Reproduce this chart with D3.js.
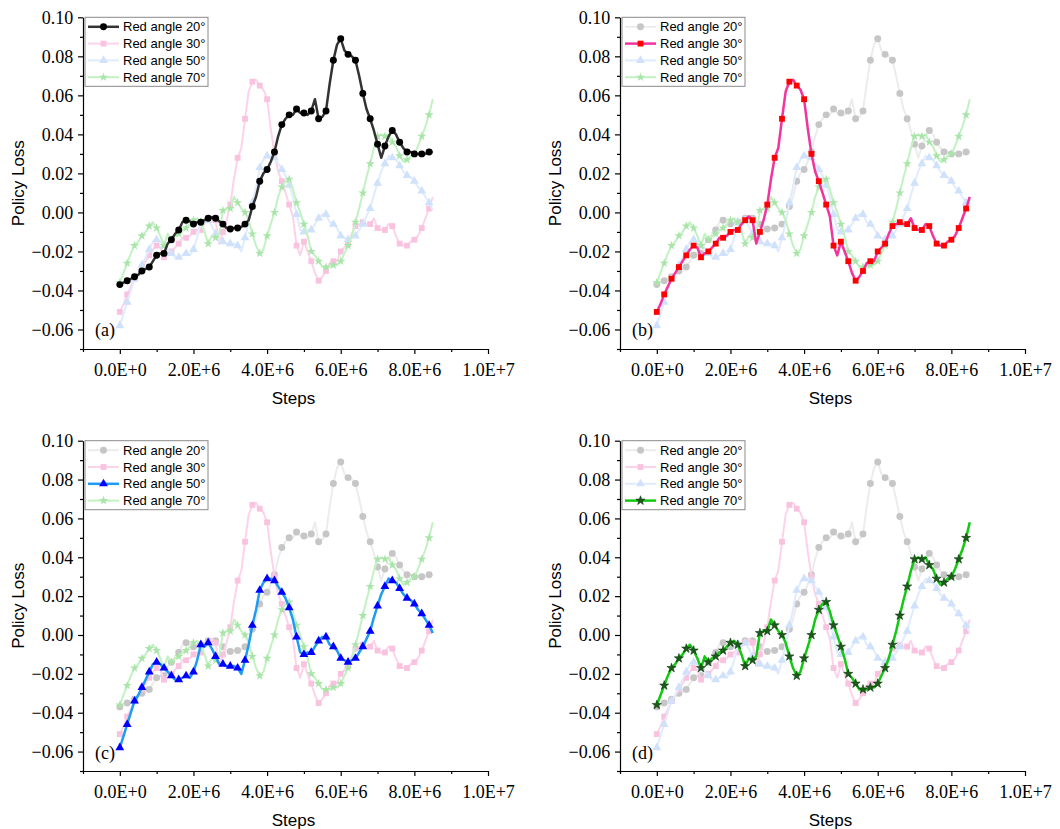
<!DOCTYPE html>
<html>
<head>
<meta charset="utf-8">
<script src="https://cdn.jsdelivr.net/npm/d3@7"></script>
<style>
  html, body { margin: 0; padding: 0; background: #fff; }
  svg { display: block; }
</style>
</head>
<body>
<svg id="chart" width="1060" height="829"></svg>
<script>
// Training steps: one sample every 1E5 steps, 0 … 8.5E6
const steps = d3.range(0, 8.5e6 + 1, 1e5);

const seriesNames = ["Red angle 20°", "Red angle 30°", "Red angle 50°", "Red angle 70°"];

// Policy loss per sample
const angle20 = [
  -0.037, -0.036, -0.035, -0.034, -0.033, -0.032, -0.030, -0.029, -0.028, -0.025,
  -0.022, -0.021, -0.021, -0.016, -0.014, -0.011, -0.009, -0.005, -0.004, -0.0045,
  -0.006, -0.005, -0.005, -0.004, -0.003, -0.0025, -0.003, -0.0045, -0.006, -0.008,
  -0.0085, -0.008, -0.008, -0.0075, -0.006, -0.004, 0.003, 0.008, 0.016, 0.020,
  0.022, 0.026, 0.031, 0.039, 0.045, 0.048, 0.050, 0.050, 0.053, 0.051,
  0.051, 0.050, 0.052, 0.058, 0.048, 0.049, 0.052, 0.066, 0.078, 0.086,
  0.089, 0.083, 0.081, 0.080, 0.078, 0.070, 0.061, 0.053, 0.048, 0.042,
  0.035, 0.028, 0.034, 0.039, 0.042, 0.040, 0.036, 0.033, 0.031, 0.031,
  0.030, 0.030, 0.030, 0.030, 0.031, 0.031
];
const angle30 = [
  -0.051, -0.047, -0.042, -0.038, -0.034, -0.031, -0.028, -0.025, -0.022, -0.019,
  -0.017, -0.018, -0.023, -0.021, -0.020, -0.018, -0.016, -0.013, -0.013, -0.012,
  -0.010, -0.009, -0.009, -0.006, -0.004, -0.002, -0.004, -0.016, -0.010, -0.004,
  0.004, 0.017, 0.028, 0.033, 0.048, 0.062, 0.067, 0.068, 0.065, 0.063,
  0.058, 0.043, 0.030, 0.021, 0.016, 0.010, 0.004, -0.002, -0.017, -0.022,
  -0.015, -0.020, -0.025, -0.031, -0.035, -0.033, -0.030, -0.026, -0.025, -0.025,
  -0.020, -0.018, -0.016, -0.011, -0.007, -0.006, -0.005, -0.006, -0.006, -0.003,
  -0.008, -0.009, -0.009, -0.006, -0.007, -0.012, -0.016, -0.017, -0.017, -0.015,
  -0.014, -0.012, -0.008, -0.003, 0.002, 0.008
];
const angle50 = [
  -0.058, -0.052, -0.046, -0.040, -0.034, -0.031, -0.027, -0.023, -0.019, -0.015,
  -0.014, -0.015, -0.017, -0.019, -0.021, -0.023, -0.023, -0.022, -0.021, -0.022,
  -0.019, -0.013, -0.005, -0.006, -0.004, -0.007, -0.011, -0.015, -0.015, -0.016,
  -0.016, -0.016, -0.017, -0.020, -0.013, -0.005, 0.005, 0.013, 0.023, 0.027,
  0.029, 0.029, 0.028, 0.025, 0.022, 0.019, 0.014, 0.008, -0.001, -0.009,
  -0.010, -0.009, -0.009, -0.006, -0.003, -0.001, -0.001, -0.005, -0.006, -0.008,
  -0.012, -0.013, -0.014, -0.013, -0.012, -0.009, -0.006, -0.002, 0.002, 0.009,
  0.015, 0.021, 0.025, 0.029, 0.028, 0.027, 0.024, 0.021, 0.019, 0.018,
  0.016, 0.013, 0.011, 0.008, 0.005, 0.001
];
const angle70 = [
  -0.036, -0.031, -0.026, -0.021, -0.017, -0.015, -0.012, -0.010, -0.007, -0.005,
  -0.008, -0.012, -0.017, -0.011, -0.014, -0.012, -0.011, -0.009, -0.008, -0.006,
  -0.004, -0.003, -0.005, -0.010, -0.016, -0.012, -0.013, -0.011, 0.001, 0.002,
  0.002, 0.008, 0.005, 0.002, 0.000, -0.004, -0.011, -0.017, -0.021, -0.019,
  -0.012, -0.006, 0.000, 0.008, 0.013, 0.016, 0.017, 0.012, 0.005, 0.000,
  -0.006, -0.012, -0.020, -0.022, -0.025, -0.028, -0.028, -0.028, -0.027, -0.027,
  -0.025, -0.021, -0.017, -0.012, -0.005, 0.002, 0.010, 0.018, 0.025, 0.033,
  0.039, 0.040, 0.039, 0.040, 0.036, 0.034, 0.029, 0.026, 0.027, 0.029,
  0.030, 0.034, 0.039, 0.044, 0.050, 0.058
];

const panelLabels = ["(a)", "(b)", "(c)", "(d)"];
const xTickValues = [0, 2e6, 4e6, 6e6, 8e6, 1e7];
const yTickValues = [-0.06, -0.04, -0.02, 0.00, 0.02, 0.04, 0.06, 0.08, 0.10];

// ---------------------------------------------------------------
const allSeries = [angle20, angle30, angle50, angle70];

const styles = [
  { line: "#333333", mark: "#000000", symbol: d3.symbolCircle,   size: 38, fadeLine: "#ececec", fadeMark: "#c6c6c6" },
  { line: "#f2359c", mark: "#ff0000", symbol: d3.symbolSquare,   size: 34, fadeLine: "#fdd3ea", fadeMark: "#f9c2df" },
  { line: "#1e9bf2", mark: "#0000ff", symbol: d3.symbolTriangle, size: 34, fadeLine: "#e0ecfd", fadeMark: "#cfe1fb" },
  { line: "#14c814", mark: "#1c5a1c", symbol: d3.symbolStar,     size: 26, fadeLine: "#c2f2c2", fadeMark: "#a9e4a9" }
];

// Plot boxes (left, right, top, bottom) for the 2×2 grid
const panels = [
  { l: 83,  r: 488,  t: 17.3,  b: 349 },
  { l: 620, r: 1025, t: 17.3,  b: 349 },
  { l: 83,  r: 488,  t: 440.7, b: 771 },
  { l: 620, r: 1025, t: 440.7, b: 771 }
];

const svg = d3.select("#chart");
const serif = "'Liberation Serif', 'Times New Roman', serif";
const sans  = "'Liberation Sans', Arial, sans-serif";

function sciFormat(v) {
  if (v === 0) return "0.0E+0";
  const e = Math.floor(Math.log10(Math.abs(v)));
  const m = v / Math.pow(10, e);
  return m.toFixed(1) + "E+" + e;
}
const yFormat = d3.format(".2f");

panels.forEach((p, pi) => {
  const g = svg.append("g");
  const x = d3.scaleLinear().domain([-1e6, 1e7]).range([p.l, p.r]);
  const y = d3.scaleLinear().domain([-0.07, 0.10]).range([p.b, p.t]);

  // minor ticks
  const xMinor = d3.range(-1e6, 1e7 + 1, 1e6).filter(v => !xTickValues.includes(v));
  const yMinor = d3.range(-7, 11).map(k => k / 100).filter(v => !yTickValues.some(t => Math.abs(t - v) < 1e-9));

  const xAxis = d3.axisBottom(x).tickValues(xTickValues).tickFormat(sciFormat).tickSize(5).tickSizeOuter(0);
  const yAxis = d3.axisLeft(y).tickValues(yTickValues).tickFormat(yFormat).tickSize(5).tickSizeOuter(0);

  const gx = g.append("g").attr("transform", `translate(0,${p.b})`).call(xAxis);
  const gy = g.append("g").attr("transform", `translate(${p.l},0)`).call(yAxis);
  g.append("g").attr("transform", `translate(0,${p.b})`)
    .call(d3.axisBottom(x).tickValues(xMinor).tickFormat("").tickSize(3).tickSizeOuter(0))
    .select(".domain").remove();
  g.append("g").attr("transform", `translate(${p.l},0)`)
    .call(d3.axisLeft(y).tickValues(yMinor).tickFormat("").tickSize(3).tickSizeOuter(0))
    .select(".domain").remove();

  g.selectAll(".domain, .tick line").attr("stroke", "#000").attr("stroke-width", 1.2);
  gx.selectAll(".tick text").style("font-family", serif).style("font-size", "18px").attr("fill", "#000").attr("dy", "1.05em");
  gy.selectAll(".tick text").style("font-family", serif).style("font-size", "18px").attr("fill", "#000").attr("dx", "-0.1em");

  // axis titles
  g.append("text")
    .attr("x", (p.l + p.r) / 2 + 8).attr("y", p.b + 55)
    .attr("text-anchor", "middle").style("font-family", sans).style("font-size", "17px")
    .text("Steps");
  g.append("text")
    .attr("transform", `translate(${p.l - 59},${(p.t + p.b) / 2}) rotate(-90)`)
    .attr("text-anchor", "middle").style("font-family", sans).style("font-size", "17px")
    .text("Policy Loss");

  // series: faded ones first, highlighted one on top
  const order = [0, 1, 2, 3].filter(i => i !== pi).concat([pi]);
  const line = d3.line().x((d, i) => x(steps[i])).y(d => y(d));

  order.forEach(si => {
    const st = styles[si];
    const hi = si === pi;
    const data = allSeries[si];
    g.append("path")
      .attr("d", line(data))
      .attr("fill", "none")
      .attr("stroke", hi ? st.line : st.fadeLine)
      .attr("stroke-width", hi ? 2.5 : 2)
      .attr("stroke-linejoin", "round");
    const sym = d3.symbol().type(st.symbol).size(st.size);
    g.append("g").selectAll("path")
      .data(data.map((v, i) => [steps[i], v]).filter((d, i) => i % 2 === 0))
      .join("path")
      .attr("transform", d => `translate(${x(d[0])},${y(d[1])})`)
      .attr("d", sym)
      .attr("fill", hi ? st.mark : st.fadeMark)
      .attr("stroke", hi && si === 3 ? "#0d3d0d" : "none")
      .attr("stroke-width", 0.6);
  });

  // legend
  const lg = g.append("g").attr("transform", `translate(${p.l + 2},${p.t})`);
  lg.append("rect").attr("x", 0).attr("y", 0).attr("width", 123).attr("height", 69)
    .attr("fill", "#fff").attr("stroke", "#8a8a8a").attr("stroke-width", 1);
  seriesNames.forEach((name, si) => {
    const st = styles[si];
    const hi = si === pi;
    const cy = 9.5 + si * 16.8;
    lg.append("line").attr("x1", 3).attr("x2", 34).attr("y1", cy).attr("y2", cy)
      .attr("stroke", hi ? st.line : st.fadeLine).attr("stroke-width", hi ? 2.5 : 2);
    lg.append("path").attr("transform", `translate(18.5,${cy})`)
      .attr("d", d3.symbol().type(st.symbol).size(st.size)())
      .attr("fill", hi ? st.mark : st.fadeMark)
      .attr("stroke", hi && si === 3 ? "#0d3d0d" : "none").attr("stroke-width", 0.6);
    lg.append("text").attr("x", 38).attr("y", cy).attr("dy", "0.35em")
      .style("font-family", sans).style("font-size", "13px").attr("fill", "#000")
      .text(name);
  });

  // panel label
  g.append("text").attr("x", p.l + 12).attr("y", y(-0.06) + 7)
    .style("font-family", serif).style("font-size", "18px").attr("fill", "#000")
    .text(panelLabels[pi]);
});
</script>
</body>
</html>
